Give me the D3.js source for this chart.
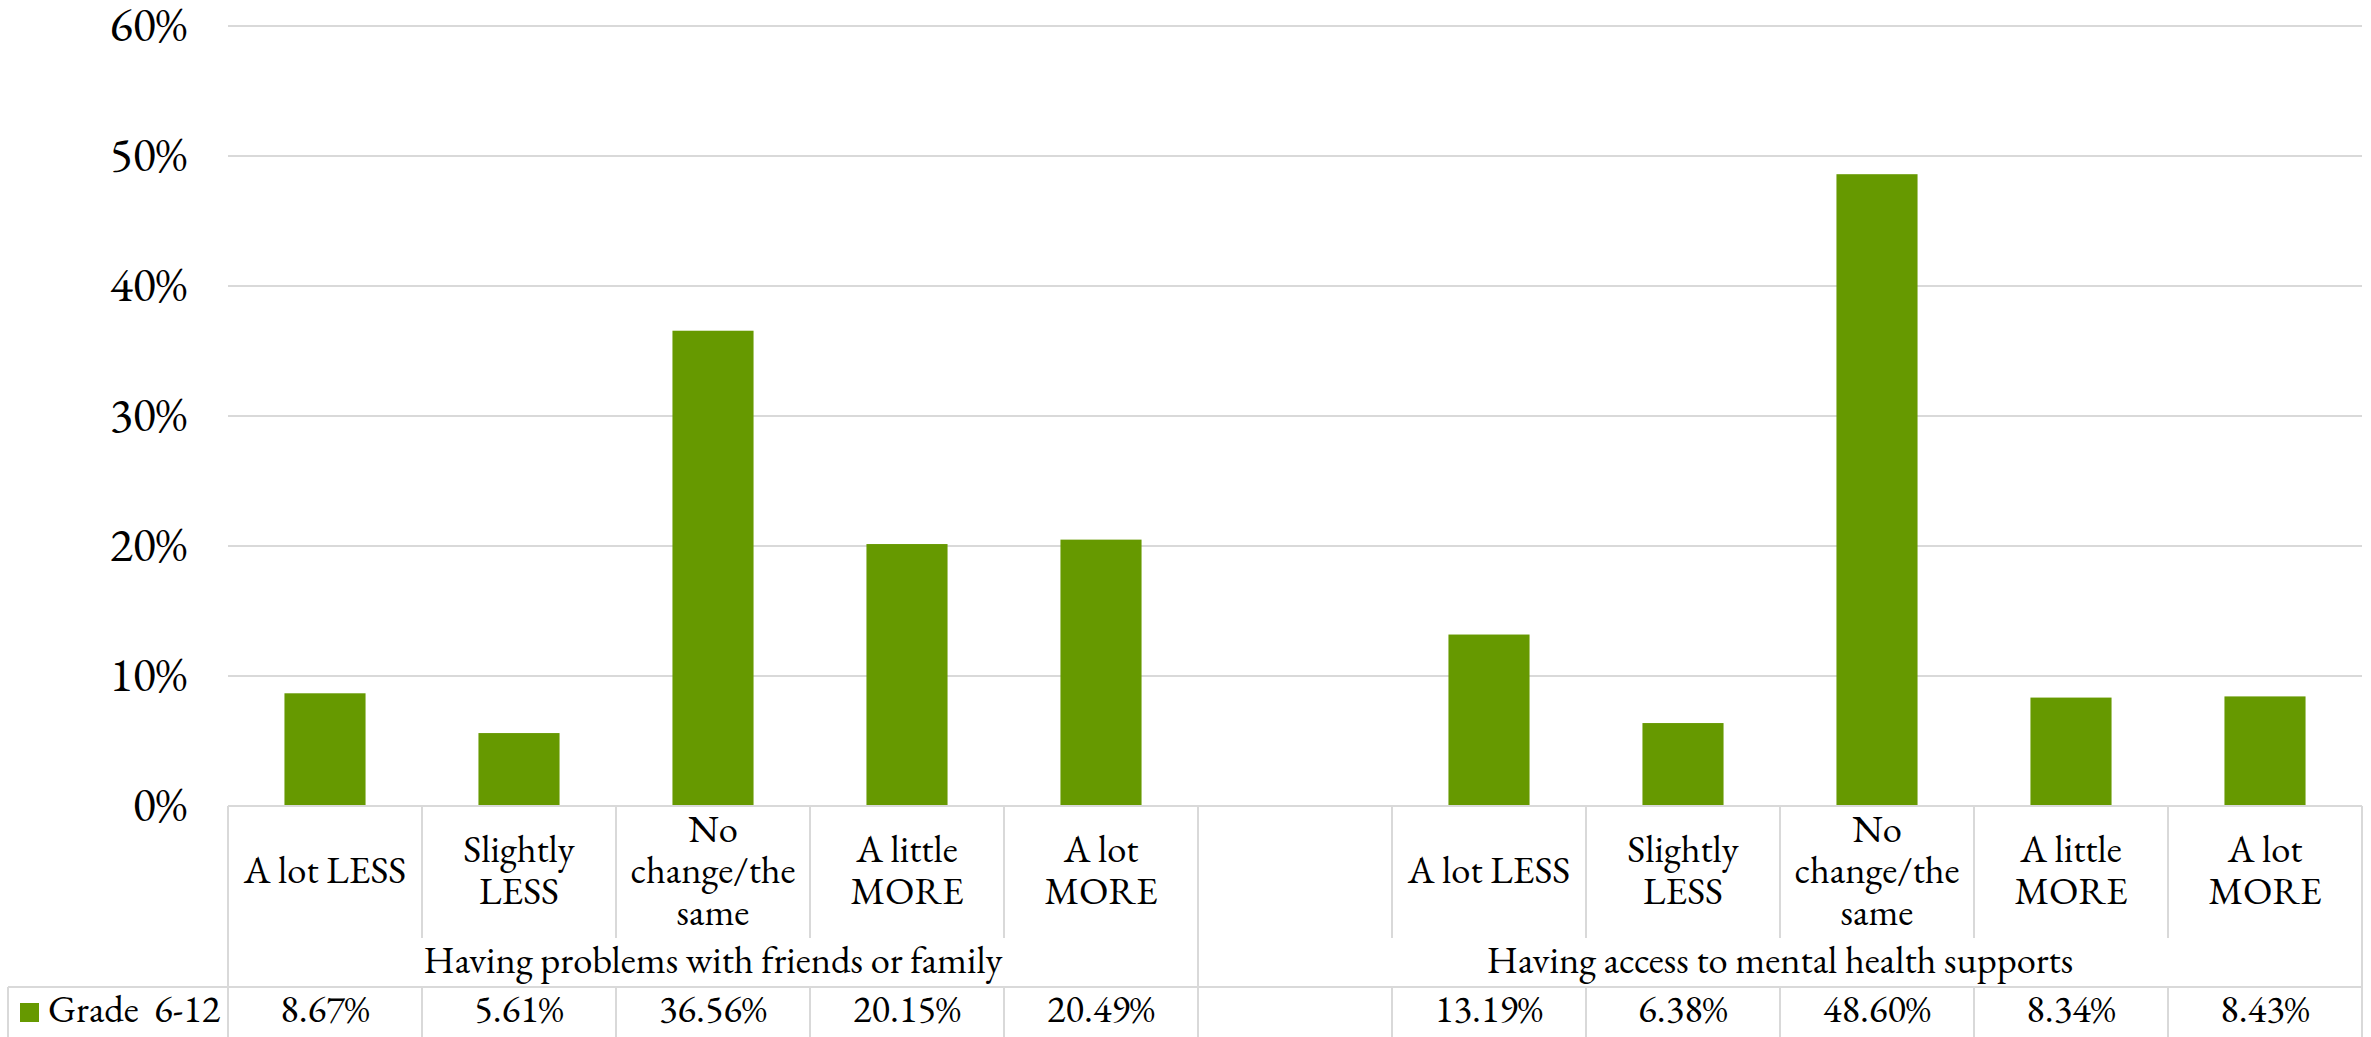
<!DOCTYPE html>
<html>
<head>
<meta charset="utf-8">
<script src="https://cdn.jsdelivr.net/npm/d3@7/dist/d3.min.js"></script>
<style>
  html, body { margin: 0; padding: 0; background: #fff; }
  svg { display: block; }
</style>
</head>
<body>
<svg id="chart" width="2371" height="1037"></svg>
<script>
// Response categories (label lines per category)
const categoryLines = [
  ["A lot LESS"],
  ["Slightly", "LESS"],
  ["No", "change/the", "same"],
  ["A little", "MORE"],
  ["A lot", "MORE"]
];
const groups = [
  "Having problems with friends or family",
  "Having access to mental health supports"
];
const seriesName = "Grade  6-12";
// Percent of students per category
const valuesFriendsFamily = [8.67, 5.61, 36.56, 20.15, 20.49];
const valuesMentalHealth = [13.19, 6.38, 48.60, 8.34, 8.43];
const tickValues = [0, 10, 20, 30, 40, 50, 60];

const green = "#669900";
const gridColor = "#d9d9d9";
const FONT = "'EB Garamond', 'Liberation Serif', serif";
const tableFont = 38.5;
const tickFont = 48;

// Build the column list: group 1 categories, an empty spacer column, group 2 categories
const columns = [];
categoryLines.forEach((lines, i) => columns.push({ id: "g0-" + i, group: 0, lines, value: valuesFriendsFamily[i] }));
columns.push({ id: "gap", group: 1, lines: [], value: null });
categoryLines.forEach((lines, i) => columns.push({ id: "g1-" + i, group: 1, lines, value: valuesMentalHealth[i] }));

const svg = d3.select("#chart");
const plotLeft = 228, plotRight = 2362;
const yTop = 26, yZero = 806;
const catRowBottom = 938, groupRowBottom = 987, dataRowBottom = 1037;
const tableLeft = 8;

const x = d3.scaleBand().domain(columns.map(d => d.id)).range([plotLeft, plotRight]).padding(0);
const y = d3.scaleLinear().domain([0, 60]).range([yZero, yTop]);
const barW = x.bandwidth() * 0.418;

function styleText(sel, size) {
  return sel.style("font-family", FONT).style("font-size", size + "px").style("fill", "#000");
}

// Gridlines
svg.append("g")
  .selectAll("line")
  .data(tickValues.filter(t => t > 0))
  .join("line")
  .attr("x1", plotLeft).attr("x2", plotRight)
  .attr("y1", d => y(d)).attr("y2", d => y(d))
  .attr("stroke", gridColor).attr("stroke-width", 2);

// Y axis tick labels
const yAxis = d3.axisLeft(y).tickValues(tickValues).tickFormat(d => d + "%").tickSize(0).tickPadding(0);
const yg = svg.append("g").attr("transform", "translate(187,0)").call(yAxis);
yg.select(".domain").remove();
styleText(yg.selectAll("text"), tickFont).attr("dy", "0.3em");

// Bars
svg.append("g")
  .selectAll("rect")
  .data(columns.filter(d => d.value !== null))
  .join("rect")
  .attr("x", d => x(d.id) + (x.bandwidth() - barW) / 2)
  .attr("width", barW)
  .attr("y", d => y(d.value))
  .attr("height", d => y(0) - y(d.value))
  .attr("fill", green);

// Data table grid
const table = svg.append("g").attr("stroke", gridColor).attr("stroke-width", 2).attr("fill", "none");
table.append("line").attr("x1", plotLeft).attr("x2", plotRight).attr("y1", yZero).attr("y2", yZero);
table.append("line").attr("x1", tableLeft).attr("x2", plotRight).attr("y1", groupRowBottom).attr("y2", groupRowBottom);
table.append("line").attr("x1", tableLeft).attr("x2", tableLeft).attr("y1", groupRowBottom).attr("y2", dataRowBottom);
table.append("line").attr("x1", plotLeft).attr("x2", plotLeft).attr("y1", yZero).attr("y2", dataRowBottom);
table.append("line").attr("x1", plotRight).attr("x2", plotRight).attr("y1", yZero).attr("y2", dataRowBottom);
columns.forEach((c, i) => {
  if (i === 0) return;
  const xx = x(c.id);
  const isGroupEdge = c.id === "gap";
  table.append("line").attr("x1", xx).attr("x2", xx)
    .attr("y1", isGroupEdge ? yZero : groupRowBottom).attr("y2", dataRowBottom);
  if (!isGroupEdge) {
    table.append("line").attr("x1", xx).attr("x2", xx).attr("y1", yZero).attr("y2", catRowBottom);
  }
});

// Category labels: one text per category, one tspan per line
const lineH = 41.5;
const catBaseline = 883;
const catText = styleText(
  svg.append("g").selectAll("text").data(columns.filter(c => c.lines.length)).join("text"),
  tableFont
).attr("text-anchor", "middle");
catText.each(function (c) {
  const n = c.lines.length;
  const cx = x(c.id) + x.bandwidth() / 2;
  d3.select(this).selectAll("tspan").data(c.lines).join("tspan")
    .attr("x", cx)
    .attr("y", (ln, j) => catBaseline + (j - (n - 1) / 2) * lineH)
    .text(ln => ln);
});

// Group labels
const groupSpans = groups.map((g, gi) => {
  const cols = columns.filter(c => c.group === gi);
  return { name: g, x0: x(cols[0].id), x1: x(cols[cols.length - 1].id) + x.bandwidth() };
});
styleText(svg.append("g").selectAll("text").data(groupSpans).join("text"), tableFont)
  .attr("text-anchor", "middle")
  .attr("x", d => (d.x0 + d.x1) / 2)
  .attr("y", 973)
  .text(d => d.name);

// Legend key + series name
svg.append("rect").attr("x", 20).attr("y", 1003).attr("width", 19).attr("height", 19).attr("fill", green);
styleText(svg.append("text"), tableFont).attr("x", 48).attr("y", 1022)
  .style("white-space", "pre").text(seriesName);

// Value row
styleText(svg.append("g").selectAll("text").data(columns.filter(d => d.value !== null)).join("text"), tableFont)
  .attr("text-anchor", "middle")
  .attr("x", d => x(d.id) + x.bandwidth() / 2)
  .attr("y", 1022)
  .text(d => d.value.toFixed(2) + "%");
</script>
</body>
</html>
